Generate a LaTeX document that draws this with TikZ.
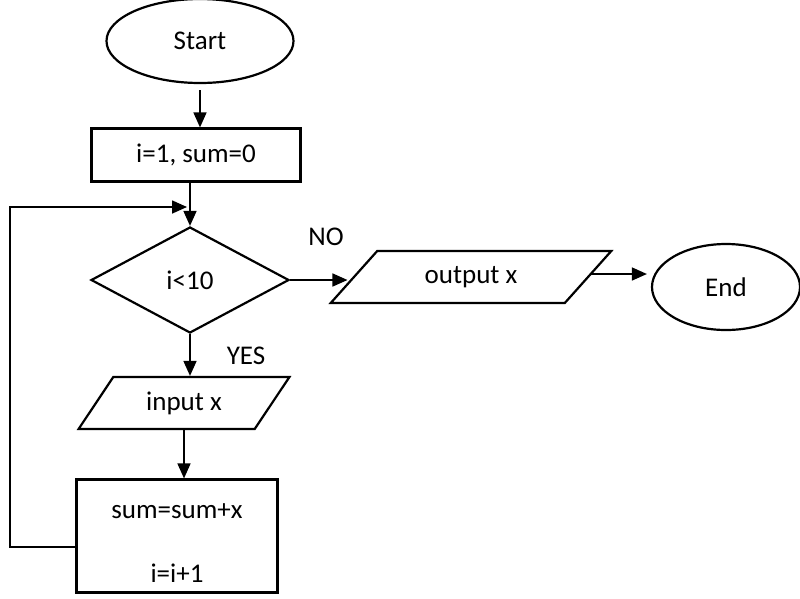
\documentclass[tikz,border=0pt]{standalone}
\usepackage{fontspec}
\setmainfont{Carlito}
\usetikzlibrary{shapes.geometric,arrows.meta}

\begin{document}
\begin{tikzpicture}[x=1pt, y=-1pt,
   every node/.style={font=\fontsize{27}{32}\selectfont, inner sep=0pt},
   terminal/.style={draw, ellipse, line width=2.2pt},
   process/.style={draw, rectangle, line width=2.2pt},
   decision/.style={draw, diamond, line width=2.2pt},
   io/.style={draw, trapezium, trapezium stretches=true, minimum height=52pt, line width=2.2pt},
   arr/.style={line width=1.6pt, -{Triangle[length=15pt,width=13pt]}}]

\useasboundingbox (0,0) rectangle (800,598);

\node[terminal, minimum width=187pt, minimum height=84pt] (start) at (200,41) {Start};
\node[process, minimum width=209pt, minimum height=53pt] (init) at (196,155) {i=1, sum=0};
\node[decision, minimum width=198pt, minimum height=106pt] (cond) at (190,280) {i<10};
\node[io, trapezium left angle=51, trapezium right angle=129, minimum width=211pt] (input) at (184,403) {input x};
\node[process, minimum width=201pt, minimum height=113pt, align=center] (update) at (177,536)
   {\rule{0pt}{12pt}\\[-16pt]sum=sum+x\\[32pt]i=i+1};
\node[io, trapezium left angle=43, trapezium right angle=137, minimum width=281pt] (output) at (471,277) {output x};
\node[terminal, minimum width=148pt, minimum height=86pt] (end) at (726,287) {End};

\node (yes) at (246,356) {YES};
\node (no) at (326,237) {NO};

\coordinate (join) at (190,207);

\draw[arr] ([yshift=-6pt]start.south) -- (start.south |- init.north);
\draw[arr] (cond.north |- init.south) -- (cond.north);
\draw[arr] (cond.south) -- (cond.south |- input.north);
\draw[arr] (input.south) -- (input.south |- update.north);
\draw[arr] ([yshift=-11pt]update.west) -- (10,547) -- (10,207) -- ([xshift=-3pt]join);
\draw[arr, shorten >=5pt] (cond.east) -- (cond.east -| output.west);
\draw[arr, shorten >=4pt] ([yshift=3pt]output.east) -- ([yshift=3pt]output.east -| end.west);

\end{tikzpicture}
\end{document}
